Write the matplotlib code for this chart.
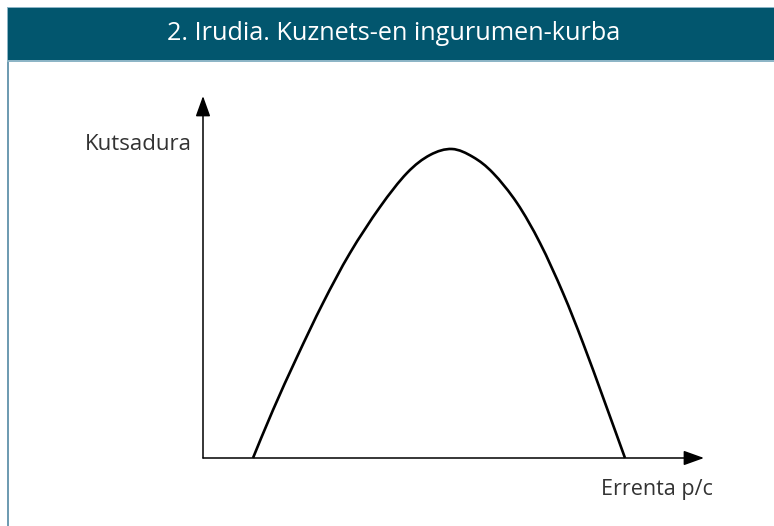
import matplotlib
matplotlib.use("Agg")
import numpy as np
import matplotlib.pyplot as plt
from matplotlib.patches import Rectangle, PathPatch
from matplotlib.path import Path

# Kuznets curve (income vs pollution, arbitrary units)
income = [50, 70, 94, 120, 147, 177, 204, 227, 249, 270, 290, 314, 337, 360,
          380, 401, 422]
pollution = [0, 48, 101, 155, 205, 251, 285, 303, 309, 301, 285, 255, 215, 165,
             115, 58, 0]

title = "2. Irudia. Kuznets-en ingurumen-kurba"
ylabel = "Kutsadura"
xlabel = "Errenta p/c"


def smooth_path(xs, ys):
    # cubic bezier segments through the points (catmull-rom tangents)
    p = np.column_stack([xs, ys]).astype(float)
    verts = [p[0]]
    codes = [Path.MOVETO]
    for i in range(len(p) - 1):
        p0 = p[i - 1] if i > 0 else p[i]
        p3 = p[i + 2] if i + 2 < len(p) else p[i + 1]
        c1 = p[i] + (p[i + 1] - p0) / 6
        c2 = p[i + 1] - (p3 - p[i]) / 6
        verts += [c1, c2, p[i + 1]]
        codes += [Path.CURVE4] * 3
    return Path(verts, codes)


W, H = 774, 526
fig = plt.figure(figsize=(W / 100, H / 100), dpi=100)
fig.patch.set_facecolor("white")

# header band
fig.add_artist(Rectangle((7 / W, 1 - 62 / H), 1, 55 / H, transform=fig.transFigure,
                         facecolor="#8db5c6", edgecolor="none"))
fig.add_artist(Rectangle((8 / W, 1 - 60 / H), 1, 52 / H, transform=fig.transFigure,
                         facecolor="#02566e", edgecolor="none"))
# left border
fig.add_artist(Rectangle((7 / W, 0), 1.5 / W, 1 - 62 / H, transform=fig.transFigure,
                         facecolor="#6f9cb2", edgecolor="none"))
fig.text(394 / W, 1 - 34 / H, title, color="white", fontsize=18.2,
         family="Open Sans", ha="center", va="center")

ox, oy = 203, 458
ax = fig.add_axes([ox / W, (H - oy) / H, (704 - ox) / W, (oy - 96) / H])
ax.set_xlim(0, 704 - ox)
ax.set_ylim(0, oy - 96)
ax.axis("off")

ax.add_patch(PathPatch(smooth_path(income, pollution), facecolor="none",
                       edgecolor="black", lw=1.9, joinstyle="round",
                       capstyle="butt", clip_on=False))

arrow = dict(arrowstyle="-|>,head_length=1.25,head_width=0.45", mutation_scale=10,
             lw=1.1, color="black", shrinkA=0, shrinkB=0)
ax.annotate("", xy=(1, 0), xytext=(0, 0), xycoords="axes fraction", arrowprops=arrow)
ax.annotate("", xy=(0, 1), xytext=(0, 0), xycoords="axes fraction", arrowprops=arrow)

fig.text(192 / W, 1 - 144 / H, ylabel, color="#333333", fontsize=16,
         family="Open Sans", ha="right", va="center")
fig.text(713 / W, 1 - 490 / H, xlabel, color="#333333", fontsize=15.5,
         family="Open Sans", ha="right", va="center")

fig.savefig("out.png", dpi=100)
